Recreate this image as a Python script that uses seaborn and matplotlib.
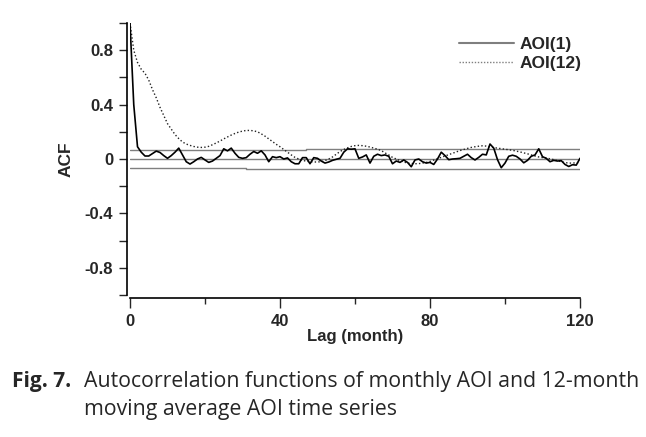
import matplotlib
matplotlib.use("Agg")
import matplotlib.pyplot as plt
import pandas as pd
import seaborn as sns
from matplotlib.lines import Line2D
from matplotlib.ticker import MultipleLocator

# ACF values, lag 0..120 months
lags = list(range(121))
acf_aoi1 = [
    1.0, 0.40, 0.09, 0.05, 0.022, 0.022, 0.04, 0.058, 0.048, 0.025,
    0.005, 0.025, 0.05, 0.08, 0.03, -0.02, -0.037, -0.02, 0.0, 0.012,
    -0.007, -0.025, -0.015, 0.005, 0.025, 0.075, 0.06, 0.08, 0.042, 0.012,
    0.005, 0.01, 0.035, 0.055, 0.042, 0.06, 0.03, -0.02, 0.017, 0.01,
    0.017, 0.0, 0.008, -0.02, -0.035, -0.035, 0.01, 0.01, -0.035, 0.01,
    0.005, -0.015, -0.03, -0.022, -0.01, -0.002, 0.005, 0.05, 0.075, 0.072,
    0.075, 0.005, 0.015, 0.03, -0.03, 0.02, 0.035, 0.025, 0.03, 0.02,
    -0.035, -0.015, -0.025, -0.007, -0.025, -0.057, -0.007, 0.0, -0.02, -0.03,
    -0.025, -0.04, 0.0, 0.05, 0.025, -0.005, 0.0, 0.002, 0.005, 0.02,
    0.035, 0.01, -0.007, 0.012, 0.035, 0.03, 0.11, 0.08, -0.005, -0.064,
    -0.03, 0.02, 0.028, 0.02, 0.0, -0.028, -0.01, 0.02, 0.03, 0.075,
    0.017, 0.005, -0.02, -0.01, -0.015, -0.012, -0.04, -0.055, -0.042, -0.045,
    0.005,
]
acf_aoi12 = [
    1.0, 0.80, 0.71, 0.66, 0.63, 0.58, 0.51, 0.45, 0.38, 0.32,
    0.26, 0.22, 0.18, 0.15, 0.125, 0.11, 0.10, 0.092, 0.087, 0.085,
    0.087, 0.093, 0.105, 0.118, 0.132, 0.148, 0.162, 0.176, 0.188, 0.198,
    0.205, 0.21, 0.21, 0.207, 0.20, 0.185, 0.168, 0.148, 0.128, 0.108,
    0.09, 0.07, 0.05, 0.03, 0.012, 0.0, -0.01, -0.016, -0.02, -0.022,
    -0.022, -0.02, -0.012, 0.0, 0.015, 0.035, 0.055, 0.07, 0.082, 0.092,
    0.098, 0.10, 0.098, 0.094, 0.088, 0.08, 0.072, 0.062, 0.045, 0.03,
    0.012, 0.0, -0.012, -0.022, -0.03, -0.033, -0.035, -0.034, -0.03, -0.025,
    -0.018, -0.008, 0.002, 0.012, 0.022, 0.032, 0.042, 0.052, 0.062, 0.07,
    0.078, 0.085, 0.09, 0.094, 0.097, 0.095, 0.09, 0.084, 0.08, 0.076,
    0.072, 0.068, 0.064, 0.058, 0.052, 0.045, 0.038, 0.03, 0.022, 0.015,
    0.01, 0.006, 0.002, -0.005, -0.012, -0.02, -0.026, -0.03, -0.03, -0.028,
    -0.025,
]

# confidence bounds (step up slightly with lag)
upper_lags = [0, 47, 120]
upper_band = [0.066, 0.072, 0.072]
lower_lags = [0, 31, 120]
lower_band = [-0.065, -0.073, -0.073]

ytick_vals = [-0.8, -0.4, 0.0, 0.4, 0.8]
ytick_labels = ["-0.8", "-0.4", "0", "0.4", "0.8"]
xtick_vals = [0, 40, 80, 120]
series_names = ["AOI(1)", "AOI(12)"]

sns.set_style("ticks")
plt.rcParams["font.family"] = ["Liberation Sans", "DejaVu Sans"]

df = pd.DataFrame({"lag": lags, "AOI(1)": acf_aoi1, "AOI(12)": acf_aoi12})

fig = plt.figure(figsize=(6.46, 4.37), dpi=100)
ax = fig.add_axes([130 / 646, 1 - 295 / 437, 450 / 646, 272 / 437])

grey = "#7f7f7f"
ax.plot([lags[0], lags[-1]], [0, 0], color=grey, lw=1.0, zorder=1)
ax.plot(upper_lags, upper_band, color=grey, lw=1.0, drawstyle="steps-post", zorder=1)
ax.plot(lower_lags, lower_band, color=grey, lw=1.0, drawstyle="steps-post", zorder=1)

sns.lineplot(data=df, x="lag", y="AOI(12)", ax=ax, color="#222222", lw=1.0,
             linestyle=(0, (1, 1.6)), zorder=2)
sns.lineplot(data=df, x="lag", y="AOI(1)", ax=ax, color="black", lw=1.2, zorder=3)

ax.set_xlim(0, 120)
ax.set_ylim(-1, 1)
ax.set_xticks(xtick_vals)
ax.set_xticklabels([str(v) for v in xtick_vals])
ax.xaxis.set_minor_locator(MultipleLocator(20))
ax.set_yticks(ytick_vals)
ax.set_yticklabels(ytick_labels)
ax.yaxis.set_minor_locator(MultipleLocator(0.2))

sns.despine(ax=ax, offset=2)
for side in ["left", "bottom"]:
    ax.spines[side].set_linewidth(1.2)
    ax.spines[side].set_color("black")

ax.tick_params(axis="x", which="major", direction="out", length=7, width=1, pad=5)
ax.tick_params(axis="x", which="minor", direction="out", length=4, width=1)
ax.tick_params(axis="y", which="both", direction="out", length=6, width=1, pad=4)
for lab in ax.get_xticklabels() + ax.get_yticklabels():
    lab.set_fontsize(12)
    lab.set_fontweight("bold")

ax.set_xlabel("Lag (month)", fontsize=12, fontweight="bold", labelpad=0)
ax.set_ylabel("ACF", fontsize=12.5, fontweight="bold", labelpad=8)

handles = [
    Line2D([], [], color=grey, lw=1.5, linestyle="-"),
    Line2D([], [], color=grey, lw=1.0, linestyle=(0, (1, 1.2))),
]
fig.legend(handles, series_names, loc="upper left", bbox_to_anchor=(443 / 646, 1 - 21 / 437),
           frameon=False, handlelength=3.2, handletextpad=0.3, labelspacing=0.25,
           prop={"weight": "bold", "size": 12.5})

cap_y1 = 1 - 387 / 437
cap_y2 = 1 - 415 / 437
fig.text(12 / 646, cap_y1, "Fig. 7.", fontsize=15, fontweight="bold",
         family="Open Sans", va="baseline")
fig.text(84 / 646, cap_y1, "Autocorrelation functions of monthly AOI and 12-month",
         fontsize=15.3, family="Open Sans", va="baseline")
fig.text(84 / 646, cap_y2, "moving average AOI time series",
         fontsize=15.3, family="Open Sans", va="baseline")

fig.savefig("out.png", dpi=100)
